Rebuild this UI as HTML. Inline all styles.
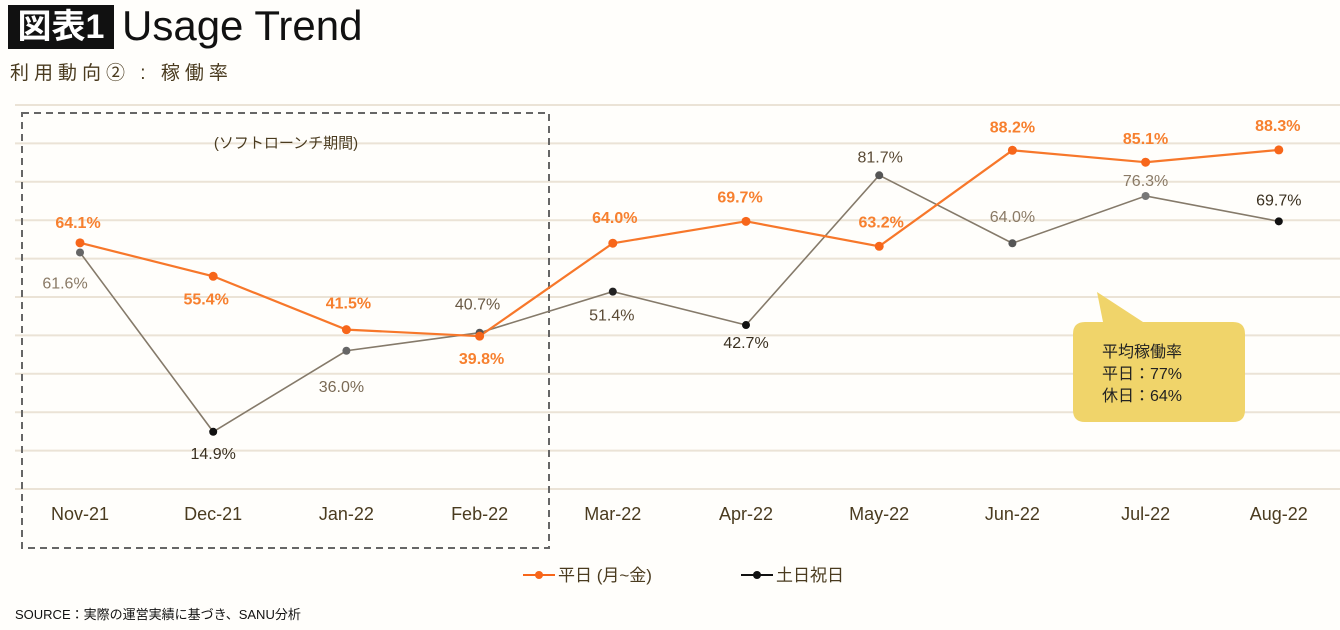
<!DOCTYPE html>
<html><head><meta charset="utf-8">
<style>
body{margin:0;width:1340px;height:630px;background:#fffefb;font-family:"Liberation Sans","Noto Sans CJK JP",sans-serif;overflow:hidden;position:relative}
.t{position:absolute}
</style></head><body>
<div class="t" style="left:8px;top:5px;width:106px;height:44px;background:#111;color:#fff;font:bold 34px 'Liberation Sans','Noto Sans CJK JP',sans-serif;line-height:44px;text-align:center">図表1</div>
<div class="t" style="left:122px;top:0px;font-size:42px;line-height:52px;color:#111">Usage Trend</div>
<div class="t" style="left:10px;top:58px;font-size:19px;letter-spacing:5px;color:#4a3b1f">利用動向② : 稼働率</div>
<div class="t" style="left:15px;top:604px;font-size:13px;color:#111">SOURCE：実際の運営実績に基づき、SANU分析</div>
<svg class="t" style="left:0;top:0" width="1340" height="630" id="chart"></svg>
<script>
const categories=["Nov-21","Dec-21","Jan-22","Feb-22","Mar-22","Apr-22","May-22","Jun-22","Jul-22","Aug-22"];
const weekday=[64.1,55.4,41.5,39.8,64.0,69.7,63.2,88.2,85.1,88.3];
const holiday=[61.6,14.9,36.0,40.7,51.4,42.7,81.7,64.0,76.3,69.7];
const yTicks=[0,10,20,30,40,50,60,70,80,90,100];
const wdOff=[[-2,-21],[-7,22],[2,-27],[2,22],[2,-26],[-6,-25],[2,-25],[0,-24],[0,-24],[-1,-25]];
const hdOff=[[-15,30],[0,21],[-5,35],[-2,-29],[-1,23],[0,17],[1,-19],[0,-27],[0,-16],[0,-22]];
const hdDot=["#666","#111","#666","#555","#222","#111","#555","#555","#777","#111"];
const hdTxt=["#8a7a66","#3a3020","#7a6a55","#6a5a45","#5a4a35","#3a3020","#5a4a35","#8a7a66","#8a7a66","#3a3020"];
const NS="http://www.w3.org/2000/svg";
const svg=document.getElementById('chart');
const x=i=>80+i*133.2;
const y=v=>489-v*3.84;
function mk(t,a,p){const e=document.createElementNS(NS,t);for(const k in a)e.setAttribute(k,a[k]);(p||svg).appendChild(e);return e;}
yTicks.forEach(v=>{
  const l=mk('line',{x1:15,x2:1340,y1:y(v),y2:y(v),stroke:'#ebe3d6','stroke-width':2});
  
  
});
const box=mk('rect',{x:22,y:113,width:527,height:435,fill:'none',stroke:'#666','stroke-width':2,'stroke-dasharray':'7,5'});


const bl=mk('text',{x:286,y:148,'text-anchor':'middle','font-size':15,fill:'#4a3b1f'});
bl.textContent='(ソフトローンチ期間)';


categories.forEach((c,i)=>{
  const t=mk('text',{x:x(i),y:520,'text-anchor':'middle','font-size':18,fill:'#4a3b1f'});
  t.textContent=c;
  
  
});
function series(vals,col,w,name){
  const p=mk('polyline',{points:vals.map((v,i)=>x(i)+','+y(v)).join(' '),fill:'none',stroke:col,'stroke-width':w});
  
  
}
series(holiday,'#857a6a',1.6,'holiday');
series(weekday,'#f7772a',2.2,'weekday');
holiday.forEach((v,i)=>{
  const d=mk('circle',{cx:x(i),cy:y(v),r:4,fill:hdDot[i]});
  
  
  const t=mk('text',{x:x(i)+hdOff[i][0],y:y(v)+hdOff[i][1]+6,'text-anchor':'middle','font-size':16,fill:hdTxt[i]});
  t.textContent=v.toFixed(1)+'%';
  
  
});
weekday.forEach((v,i)=>{
  const d=mk('circle',{cx:x(i),cy:y(v),r:4.5,fill:'#f7661a'});
  
  
  const t=mk('text',{x:x(i)+wdOff[i][0],y:y(v)+wdOff[i][1]+6,'text-anchor':'middle','font-size':16,'font-weight':'bold',fill:'#f7802f'});
  t.textContent=v.toFixed(1)+'%';
  
  
});
const cb=mk('path',{d:'M1097,292 L1143,322 L1233,322 Q1245,322 1245,334 L1245,410 Q1245,422 1233,422 L1085,422 Q1073,422 1073,410 L1073,334 Q1073,322 1085,322 L1103,322 Z',fill:'#f0d46a'});


['平均稼働率','平日：77%','休日：64%'].forEach((s,i)=>{
  const t=mk('text',{x:1102,y:357+i*22,'font-size':16,fill:'#222'});
  t.textContent=s;
  
  
});
function legend(x0,col,label,name){
  const l=mk('line',{x1:x0,x2:x0+32,y1:575,y2:575,stroke:col,'stroke-width':2});
  
  
  const c=mk('circle',{cx:x0+16,cy:575,r:4,fill:col});
  
  
  const t=mk('text',{x:x0+35,y:581,'font-size':17,fill:'#4a3b1f'});
  t.textContent=label;
  
  
}
legend(523,'#f7661a','平日 (月~金)','weekday');
legend(741,'#111','土日祝日','holiday');
</script>
</body></html>
